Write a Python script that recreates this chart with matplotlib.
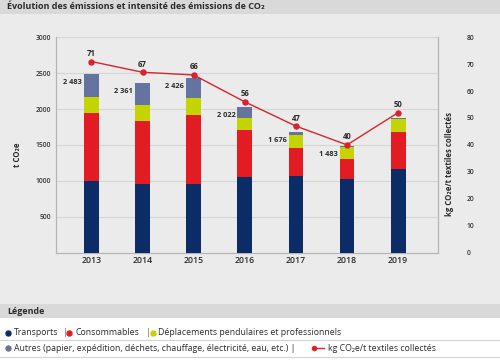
import matplotlib
matplotlib.use("Agg")
import matplotlib.pyplot as plt
from matplotlib.patches import Rectangle
import numpy as np

plt.rcParams['font.family'] = ['Open Sans', 'DejaVu Sans']

years = ["2013", "2014", "2015", "2016", "2017", "2018", "2019"]
transports = [990, 955, 955, 1048, 1066, 1024, 1164]
consommables = [960, 880, 960, 660, 390, 280, 517]
deplacements = [215, 220, 242, 168, 187, 160, 177]
autres = [318, 306, 269, 146, 33, 19, 20]
total_labels = ["2 483", "2 361", "2 426", "2 022", "1 676", "1 483", ""]
intensity = [71, 67, 66, 56, 47, 40, 52]
intensity_labels = ["71", "67", "66", "56", "47", "40", "50"]
left_ticks = [500, 1000, 1500, 2000, 2500, 3000]
right_ticks = [0, 10, 20, 30, 40, 50, 60, 70, 80]

c_tr = "#0b2c66"
c_co = "#e31b23"
c_de = "#c3d400"
c_au = "#6573a1"
c_line = "#d7232e"
bgc = "#ebebeb"
band = "#d9d9d9"
txt = "#2b2b2b"

W, H = 500, 363
fig = plt.figure(figsize=(W / 100, H / 100), dpi=100, facecolor=bgc)

bg = fig.add_axes([0, 0, 1, 1])
bg.set_xlim(0, W)
bg.set_ylim(H, 0)
bg.axis('off')
bg.add_patch(Rectangle((0, 0), W, 13.5, color=band, lw=0))
bg.add_patch(Rectangle((0, 304), W, 14, color=band, lw=0))
bg.add_patch(Rectangle((0, 318), W, 45, color="white", lw=0))
bg.plot([0, W], [340.3, 340.3], color="#d4d4d4", lw=0.8)
bg.plot([0, W], [356.6, 356.6], color="#d4d4d4", lw=0.8)
bg.text(7, 6.8, "Évolution des émissions et intensité des émissions de CO₂",
        fontsize=6.5, fontweight='bold', color=txt, va='center', ha='left')
bg.text(7, 311, "Légende", fontsize=6.4, fontweight='bold', color=txt,
        va='center', ha='left')

r1, r2 = 332.7, 348.3
fs_leg = 6.35
bg.plot([8.3], [r1], 'o', color=c_tr, ms=3.6)
bg.text(14, r1, "Transports", fontsize=fs_leg, color=txt, va='center')
bg.text(62.5, r1, "|", fontsize=fs_leg, color="#666666", va='center')
bg.plot([69.3], [r1], 'o', color=c_co, ms=3.6)
bg.text(75.5, r1, "Consommables", fontsize=fs_leg, color=txt, va='center')
bg.text(146, r1, "|", fontsize=fs_leg, color="#666666", va='center')
bg.plot([153.3], [r1], 'o', color=c_de, ms=3.6)
bg.text(158.5, r1, "Déplacements pendulaires et professionnels", fontsize=fs_leg,
        color=txt, va='center')
bg.plot([8.3], [r2], 'o', color=c_au, ms=3.6)
bg.text(14, r2, "Autres (papier, expédition, déchets, chauffage, électricité, eau, etc.) |",
        fontsize=fs_leg, color=txt, va='center')
bg.plot([313, 324], [r2, r2], color=c_line, lw=1)
bg.plot([314.3], [r2], 'o', color=c_line, ms=3)
bg.text(327.5, r2, "kg CO₂e/t textiles collectés", fontsize=fs_leg, color=txt,
        va='center')

# main axes
x0, x1 = 55.7, 438
y0, y1 = 252.5, 37.3
ax = fig.add_axes([x0 / W, 1 - y0 / H, (x1 - x0) / W, (y0 - y1) / H])
ax.set_facecolor('none')
x = np.arange(len(years))
bw = 0.29
b1 = np.array(transports)
b2 = b1 + np.array(consommables)
b3 = b2 + np.array(deplacements)
tot = b3 + np.array(autres)
ax.bar(x, transports, bw, color=c_tr, zorder=3)
ax.bar(x, consommables, bw, bottom=b1, color=c_co, zorder=3)
ax.bar(x, deplacements, bw, bottom=b2, color=c_de, zorder=3)
ax.bar(x, autres, bw, bottom=b3, color=c_au, zorder=3)
ax.set_xlim(-0.7, 6.78)
ax.set_ylim(0, 3000)
ax.set_yticks(left_ticks)
ax.set_xticks(x)
ax.set_xticklabels(years)
ax.grid(axis='y', color='#d6d6d6', lw=0.8, zorder=0)
ax.spines['top'].set_visible(False)
for s in ['left', 'bottom', 'right']:
    ax.spines[s].set_color('#b5b5b5')
    ax.spines[s].set_linewidth(0.9)
ax.tick_params(axis='y', length=0, pad=3.5, labelsize=4.9, labelcolor='#333333')
ax.tick_params(axis='x', length=0, pad=2.5, labelsize=6.3, labelcolor=txt)
for lab in ax.get_yticklabels():
    lab.set_fontweight('semibold')
for lab in ax.get_xticklabels():
    lab.set_fontweight('semibold')

for xi, t, lab in zip(x, tot, total_labels):
    if lab:
        ax.annotate(lab, (xi - bw / 2, t), xytext=(-2, -8), textcoords='offset pixels',
                    ha='right', va='center', fontsize=5.3, fontweight='bold', color=txt)

ax2 = ax.twinx()
ax2.set_ylim(0, 80)
ax2.set_yticks(right_ticks)
ax2.plot(x, intensity, color=c_line, lw=1, marker='o', ms=3.6, zorder=5)
for sp in ax2.spines.values():
    sp.set_visible(False)
ax2.tick_params(axis='y', length=0, pad=20.5, labelsize=4.9, labelcolor='#333333')
for lab in ax2.get_yticklabels():
    lab.set_fontweight('semibold')
for xi, v, lab in zip(x, intensity, intensity_labels):
    ax2.annotate(lab, (xi, v), xytext=(0, 8), textcoords='offset pixels',
                 ha='center', va='center', fontsize=5.6, fontweight='bold', color=txt)

fig.text(17 / W, 1 - 154.7 / H, "t CO₂e", rotation=90, ha='center', va='center',
         fontsize=5.6, fontweight='bold', color=txt)
fig.text(450 / W, 1 - 164 / H, "kg CO₂e/t textiles collectés", rotation=90,
         ha='center', va='center', fontsize=5.6, fontweight='bold', color=txt)

fig.savefig("out.png", dpi=100, facecolor=bgc)
